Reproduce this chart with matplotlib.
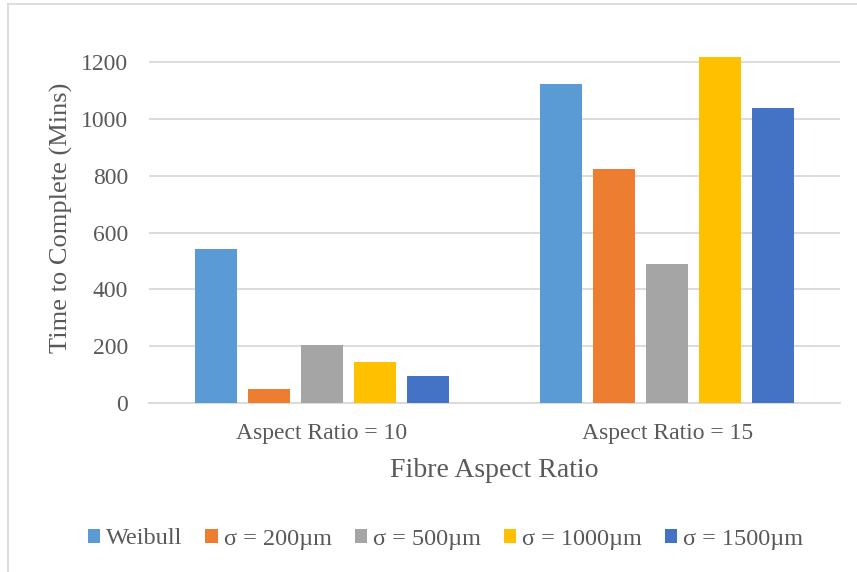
"""Grouped bar chart of completion time by fibre aspect ratio."""

import matplotlib.pyplot as plt
import numpy as np
from matplotlib.lines import Line2D
from matplotlib.patches import Patch

plt.rcParams["font.family"] = ["Liberation Serif", "DejaVu Serif"]

categories = ["Aspect Ratio = 10", "Aspect Ratio = 15"]
series = ["Weibull", "σ = 200µm", "σ = 500µm", "σ = 1000µm", "σ = 1500µm"]
weibull = [542, 1121]
sigma_200 = [50, 822]
sigma_500 = [204, 488]
sigma_1000 = [144, 1217]
sigma_1500 = [96, 1036]
colors = ["#5B9BD5", "#ED7D31", "#A5A5A5", "#FFC000", "#4472C4"]
text_color = "#595959"

values = [weibull, sigma_200, sigma_500, sigma_1000, sigma_1500]

fig = plt.figure(figsize=(8.57, 5.72), dpi=100)
ax = fig.add_axes([0.1739, 0.2949, 0.8064, 0.6469])

x = np.arange(len(categories))
width = 0.1216
step = 0.1534
for i, (name, vals, color) in enumerate(zip(series, values, colors)):
    offset = (i - 2) * step
    ax.bar(x + offset, vals, width, color=color, label=name, zorder=3)

ax.set_xlim(-0.5, 1.5)
ax.set_ylim(0, 1300)
ax.set_yticks(range(0, 1201, 200))
ax.set_xticks(x)
ax.set_xticklabels(categories)
ax.grid(axis="y", color="#D9D9D9", linewidth=1.3, zorder=0)
for side in ["top", "right", "left"]:
    ax.spines[side].set_visible(False)
ax.spines["bottom"].set_color("#D9D9D9")
ax.spines["bottom"].set_linewidth(1.3)
ax.tick_params(axis="both", length=0, labelsize=17, colors=text_color)
ax.tick_params(axis="y", pad=15)
ax.tick_params(axis="x", pad=14)

ax.set_ylabel("Time to Complete (Mins)", fontsize=19, color=text_color)
ax.set_xlabel("Fibre Aspect Ratio", fontsize=20, color=text_color)
ax.yaxis.set_label_coords(-0.110, 0.5)
ax.xaxis.set_label_coords(0.5, -0.148)

handles = [Patch(facecolor=c, label=s) for c, s in zip(colors, series)]
fig.legend(handles=handles, loc="center", bbox_to_anchor=(0.52, 1 - 539 / 572),
           ncol=5, frameon=False, fontsize=17.5, labelcolor=text_color,
           handlelength=0.5, handleheight=0.5, handletextpad=0.25,
           columnspacing=0.95)

# chart area border (only the top and left edges fall inside the image)
fig.add_artist(Line2D([8 / 857, 1], [1 - 4 / 572, 1 - 4 / 572], color="#D9D9D9", linewidth=1.3))
fig.add_artist(Line2D([8 / 857, 8 / 857], [0, 1 - 4 / 572], color="#D9D9D9", linewidth=1.3))

fig.savefig("out.png", dpi=100)
